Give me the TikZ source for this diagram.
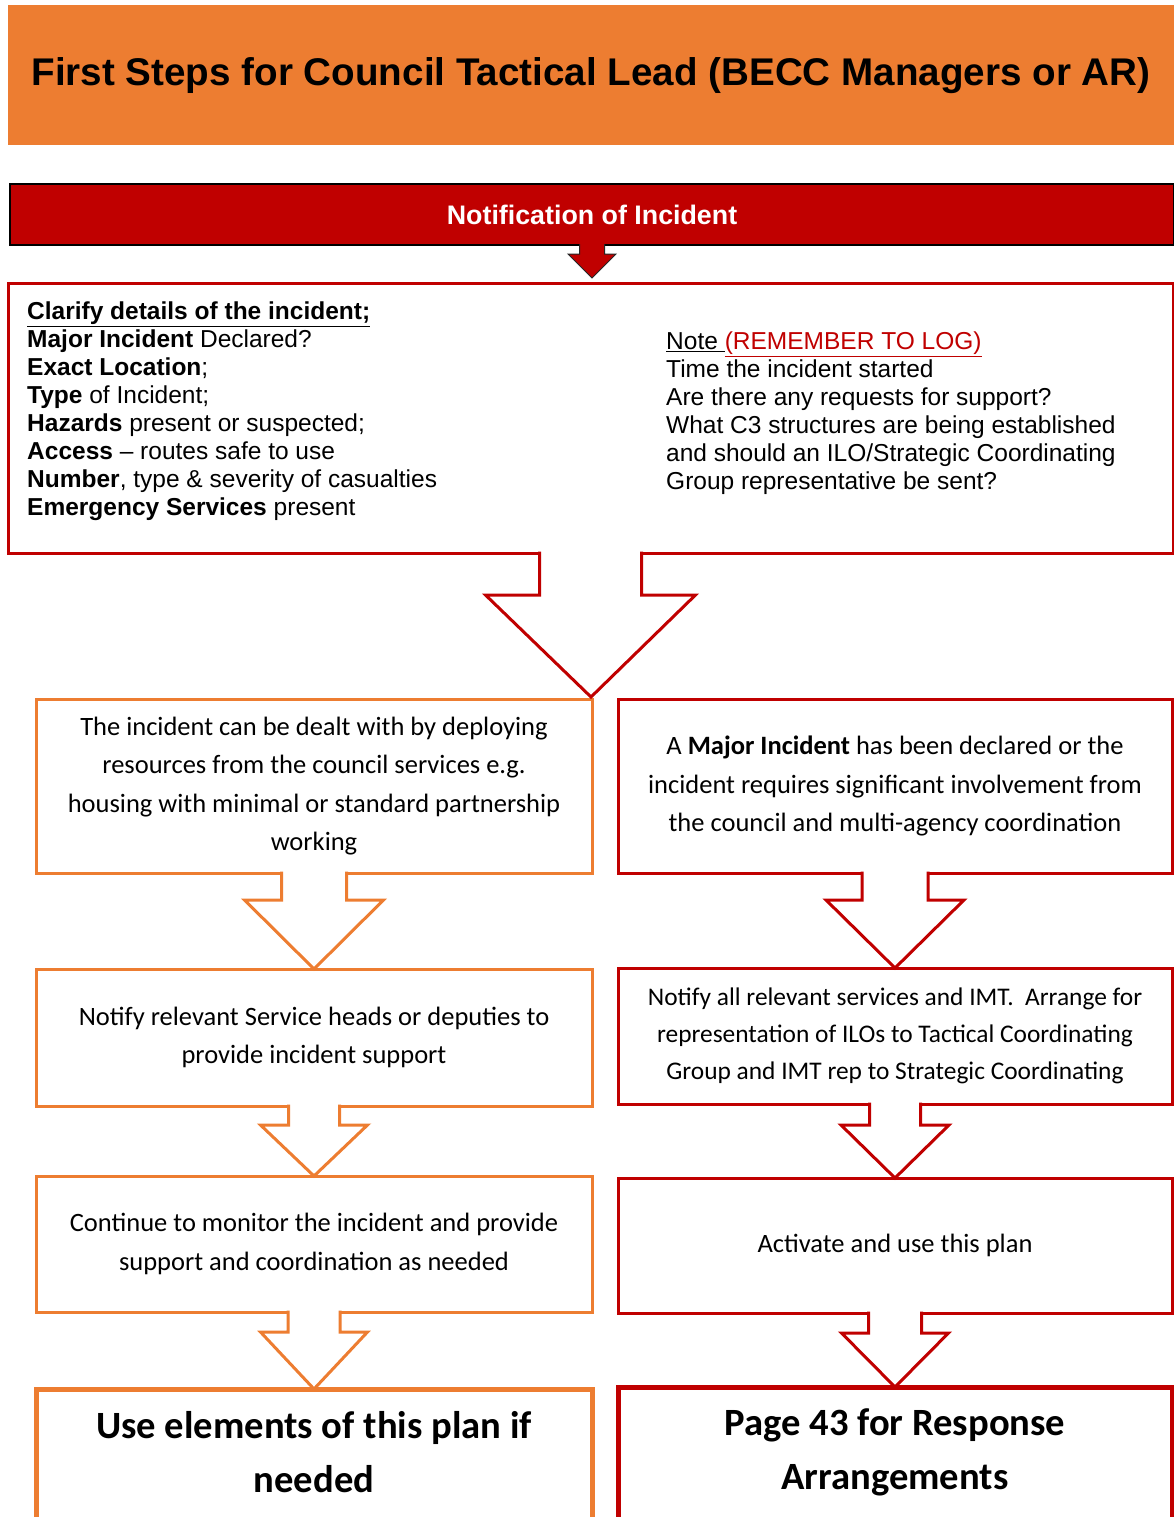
\documentclass[tikz,border=0pt]{standalone}
\usepackage{fontspec}
\setmainfont{Carlito}
\newfontfamily\arialf[Ligatures=TeX]{Liberation Sans}
\usetikzlibrary{calc}
\definecolor{orng}{HTML}{ED7D31}
\definecolor{dred}{HTML}{C00000}
\newcommand\bodyfnt{\fontsize{26.5}{38.5}\selectfont}
\newcommand\smallbodyfnt{\fontsize{25.4}{37}\selectfont}
\newcommand\bigfnt{\fontsize{38.6}{54}\selectfont\bfseries}
% block arrow: #1 from node, #2 tip, #3 shaft half width, #4 head half width, #5 shaft length, #6 style
\newcommand\blockarr[6]{%
  \fill[white] ($(#1.south)+(-#3,-3)$) rectangle ($(#1.south)+(#3,#5)$);
  \draw[#6] ($(#1.south)+(-#3,-1.5)$) -- ($(#1.south)+(-#3,#5)$) -- ($(#1.south)+(-#4,#5)$) -- (#2)
     -- ($(#1.south)+(#4,#5)$) -- ($(#1.south)+(#3,#5)$) -- ($(#1.south)+(#3,-1.5)$);
}
\begin{document}
\begin{tikzpicture}[x=1pt,y=-1pt,
  obox/.style={draw=orng,line width=3pt,outer sep=0pt,inner sep=0pt,align=center,font=\bodyfnt},
  rbox/.style={draw=dred,line width=3pt,outer sep=0pt,inner sep=0pt,align=center,font=\bodyfnt},
  oarr/.style={draw=orng,line width=3pt,line join=miter},
  rarr/.style={draw=dred,line width=3pt,line join=miter},
  listtxt/.style={anchor=west,align=left,inner sep=0pt,font=\arialf\fontsize{24.5}{28}\selectfont}]
\useasboundingbox (0,0) rectangle (1174,1517);
\clip (0,0) rectangle (1174,1517);

% title
\node[fill=orng,minimum width=1166pt,minimum height=140pt,inner sep=0pt,
  font=\arialf\bfseries\fontsize{38.6}{44}\selectfont] (title) at (591,75.5)
  {First Steps for Council Tactical Lead (BECC Managers or AR)};

% notification bar
\node[fill=dred,draw=black,line width=2pt,minimum width=1164pt,minimum height=61pt,
  outer sep=0pt,inner sep=0pt,text=white,font=\arialf\bfseries\fontsize{26.8}{30}\selectfont]
  (notif) at (592,214.5) {Notification of Incident};
\coordinate (ntip) at (592,278);
\draw[fill=dred,draw=black!85,line width=1pt,line join=miter]
  ($(notif.south)+(-12.5,-1)$) -- ($(notif.south)+(-12.5,9)$) -- ($(notif.south)+(-24,9)$) -- (ntip)
  -- ($(notif.south)+(24,9)$) -- ($(notif.south)+(12.5,9)$) -- ($(notif.south)+(12.5,-1)$);

% clarify box
\node[draw=dred,line width=3pt,outer sep=0pt,minimum width=1165pt,minimum height=270pt] (clar) at (590.5,418) {};
\node[listtxt] (clarL) at (27,411) {%
  \underline{\textbf{Clarify details of the incident;}}\\
  \textbf{Major Incident} Declared?\\
  \textbf{Exact Location};\\
  \textbf{Type} of Incident;\\
  \textbf{Hazards} present or suspected;\\
  \textbf{Access} – routes safe to use\\
  \textbf{Number}, type \& severity of casualties\\
  \textbf{Emergency Services} present};
\node[listtxt] (clarR) at (666,413.5) {%
  \underline{Note\ }\textcolor{dred}{\underline{(REMEMBER TO LOG)}}\\
  Time the incident started\\
  Are there any requests for support?\\
  What C3 structures are being established\\
  and should an ILO/Strategic Coordinating\\
  Group representative be sent?};
\coordinate (ctip) at (591,697);

% left column
\node[obox,minimum width=556pt,minimum height=174pt] (L1) at (314,786) {%
  The incident can be dealt with by deploying\\
  resources from the council services e.g.\\
  housing with minimal or standard partnership\\
  working};
\node[obox,minimum width=556pt,minimum height=137pt] (L2) at (314,1037.5) {%
  Notify relevant Service heads or deputies to\\
  provide incident support};
\node[obox,minimum width=556pt,minimum height=136pt] (L3) at (314,1244) {%
  Continue to monitor the incident and provide\\
  support and coordination as needed};
\node[draw=orng,line width=5pt,outer sep=0pt,minimum width=556pt,minimum height=160pt] (L4) at (314,1469) {};
\node[align=center,font=\bigfnt,inner sep=0pt] (L4t) at (314,1452) {Use elements of this plan if\\needed};

% right column
\node[rbox,minimum width=554pt,minimum height=174pt] (R1) at (895,786) {%
  A \textbf{Major Incident} has been declared or the\\
  incident requires significant involvement from\\
  the council and multi-agency coordination};
\node[rbox,font=\smallbodyfnt,minimum width=554pt,minimum height=136pt] (R2) at (895,1036) {%
  Notify all relevant services and IMT.\ \ Arrange for\\
  representation of ILOs to Tactical Coordinating\\
  Group and IMT rep to Strategic Coordinating};
\node[rbox,minimum width=554pt,minimum height=135pt] (R3) at (895,1245.5) {%
  Activate and use this plan};
\node[draw=dred,line width=5pt,outer sep=0pt,minimum width=554pt,minimum height=160pt] (R4) at (895,1467) {};
\node[align=center,font=\bigfnt,inner sep=0pt] (R4t) at (895,1452) {Page 43 for Response\\Arrangements};

% block arrows
\blockarr{clar}{ctip}{51}{105}{42}{rarr}
\blockarr{L1}{L2.north}{32.5}{69.5}{27}{oarr}
\blockarr{L2}{L3.north}{25.5}{53.5}{19}{oarr}
\blockarr{L3}{L4.north}{26}{53.5}{20}{oarr}
\blockarr{R1}{R2.north}{33}{69}{27}{rarr}
\blockarr{R2}{R3.north}{25.5}{54}{21}{rarr}
\blockarr{R3}{R4.north}{26.5}{53.5}{20}{rarr}
\end{tikzpicture}
\end{document}
